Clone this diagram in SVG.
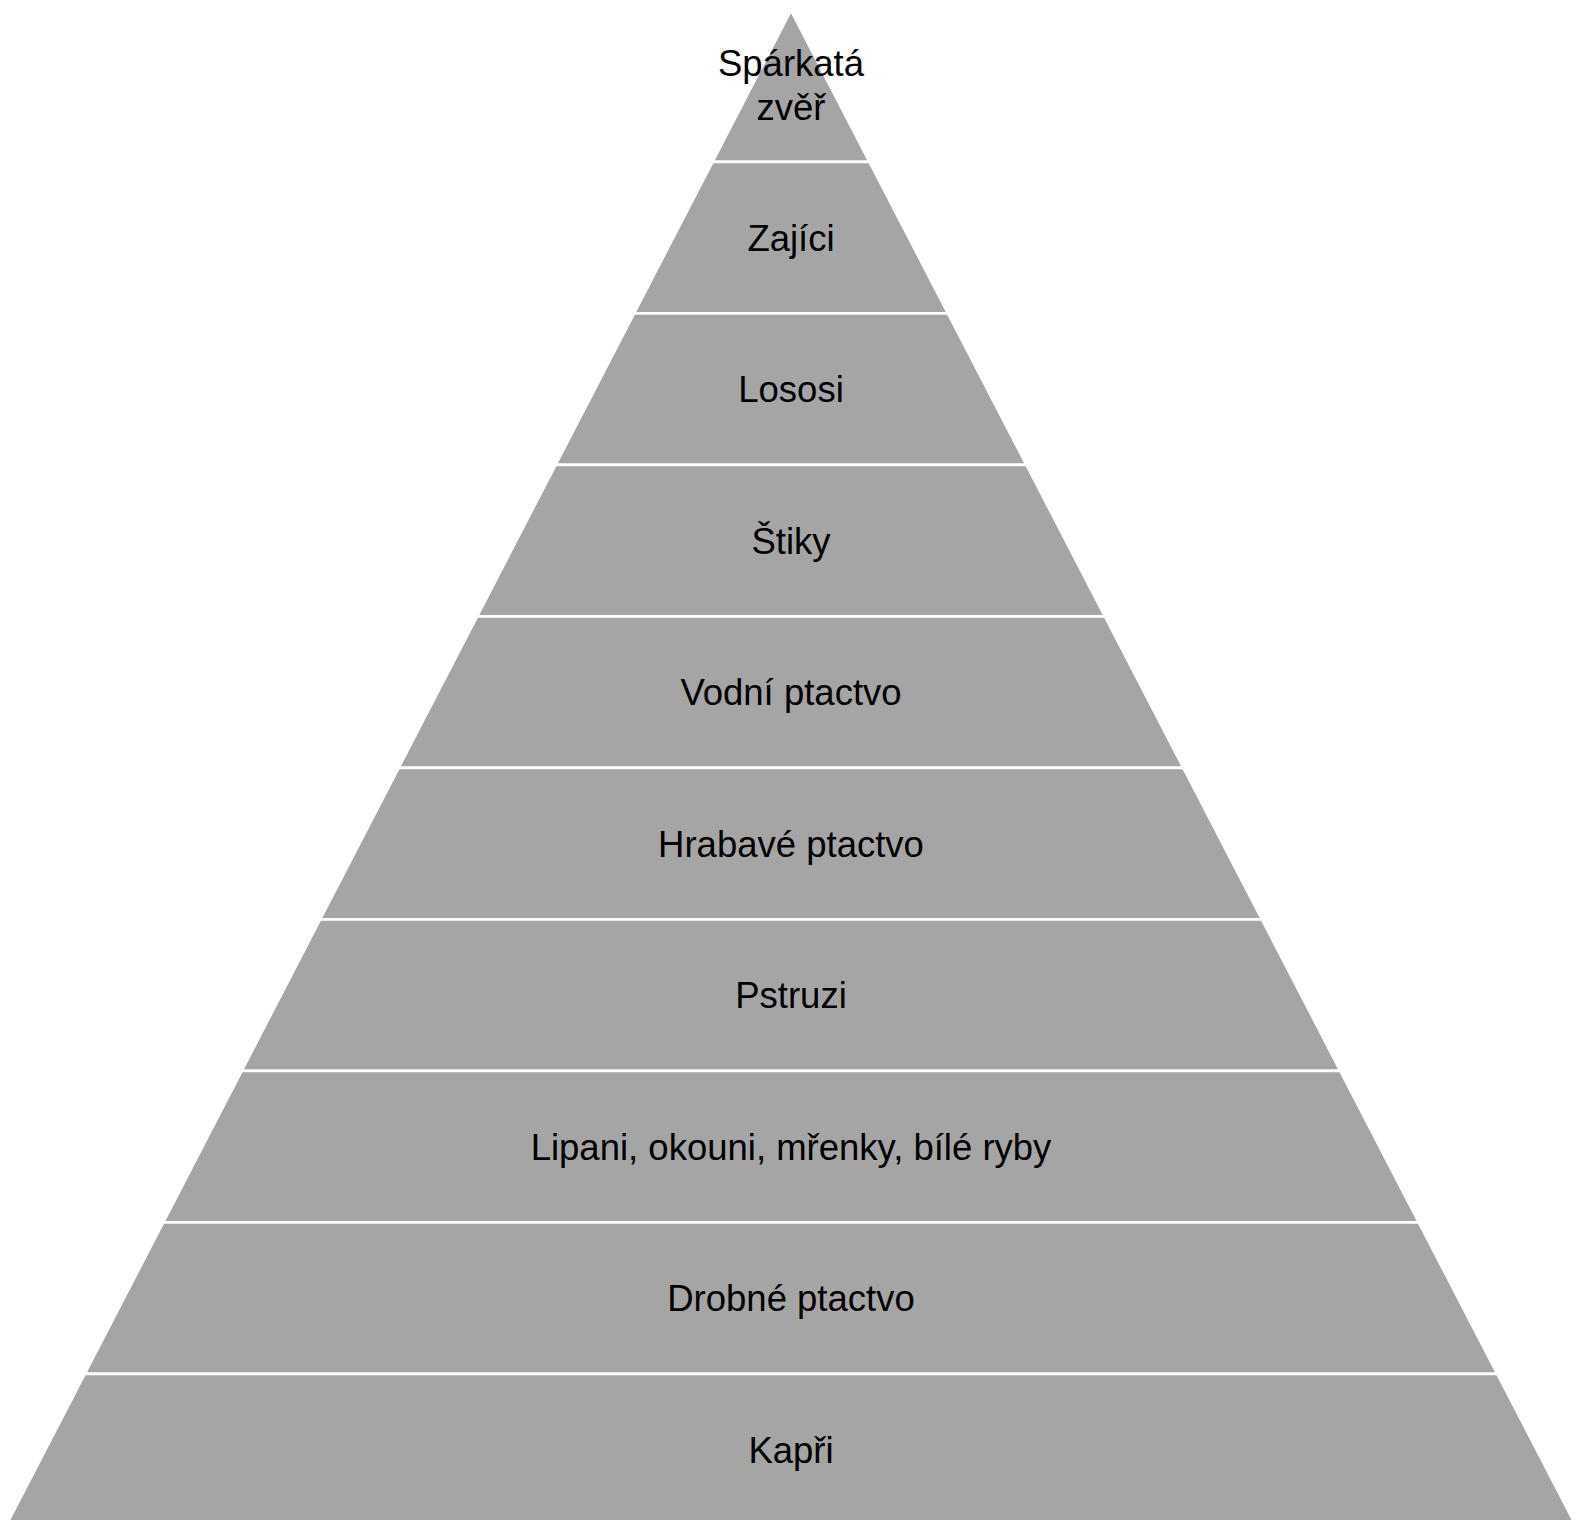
<svg xmlns="http://www.w3.org/2000/svg" width="1576" height="1520" viewBox="0 0 1576 1520">
<style>
.layer{fill:#A5A5A5;stroke:#FFFFFF;stroke-width:2.7;stroke-linejoin:miter}
.lbl{font-family:"Liberation Sans",Arial,sans-serif;font-size:36.5px;fill:#000000;text-anchor:middle}
</style>
<rect width="1576" height="1520" fill="#FFFFFF"/>
<g id="layer1"><polygon class="layer" points="791,10.3 869.48,161.8 712.52,161.8"/><text class="lbl" x="791" y="76">Spárkatá</text><text class="lbl" x="791" y="120">zvěř</text></g>
<g id="layer2"><polygon class="layer" points="712.52,161.8 869.48,161.8 947.95,313.3 634.05,313.3"/><text class="lbl" x="791" y="250.5">Zajíci</text></g>
<g id="layer3"><polygon class="layer" points="634.05,313.3 947.95,313.3 1026.43,464.8 555.57,464.8"/><text class="lbl" x="791" y="402">Lososi</text></g>
<g id="layer4"><polygon class="layer" points="555.57,464.8 1026.43,464.8 1104.9,616.3 477.1,616.3"/><text class="lbl" x="791" y="553.5">Štiky</text></g>
<g id="layer5"><polygon class="layer" points="477.1,616.3 1104.9,616.3 1183.4,767.8 398.6,767.8"/><text class="lbl" x="791" y="705">Vodní ptactvo</text></g>
<g id="layer6"><polygon class="layer" points="398.6,767.8 1183.4,767.8 1261.9,919.3 320.1,919.3"/><text class="lbl" x="791" y="856.5">Hrabavé ptactvo</text></g>
<g id="layer7"><polygon class="layer" points="320.1,919.3 1261.9,919.3 1340.3,1070.8 241.7,1070.8"/><text class="lbl" x="791" y="1008">Pstruzi</text></g>
<g id="layer8"><polygon class="layer" points="241.7,1070.8 1340.3,1070.8 1418.8,1222.3 163.2,1222.3"/><text class="lbl" x="791" y="1159.5">Lipani, okouni, mřenky, bílé ryby</text></g>
<g id="layer9"><polygon class="layer" points="163.2,1222.3 1418.8,1222.3 1497.3,1373.8 84.7,1373.8"/><text class="lbl" x="791" y="1311">Drobné ptactvo</text></g>
<g id="layer10"><polygon class="layer" points="84.7,1373.8 1497.3,1373.8 1575.8,1525.3 6.2,1525.3"/><text class="lbl" x="791" y="1462.5">Kapři</text></g>
<g id="connectors"></g>
</svg>
